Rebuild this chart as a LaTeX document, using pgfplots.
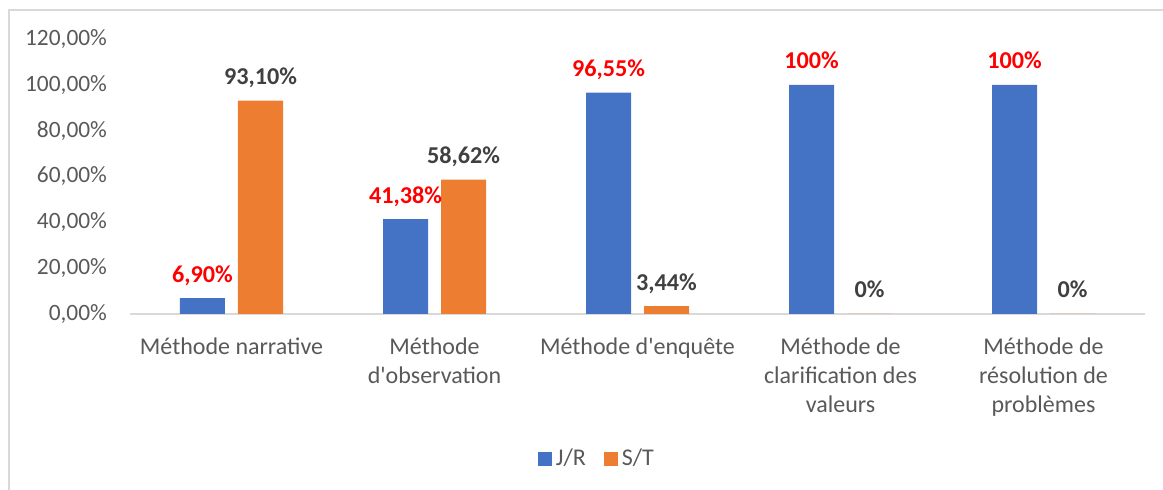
\documentclass[border=0pt]{standalone}
\usepackage{pgfplots}
\pgfplotsset{compat=1.18}
\usepackage{pgfplotstable}
\usepackage{fontspec}
\setmainfont{Carlito}[Ligatures=TeXOff]
\definecolor{cblue}{HTML}{4472C4}
\definecolor{corange}{HTML}{ED7D31}
\definecolor{ctick}{HTML}{595959}
\definecolor{clab}{HTML}{404040}
\definecolor{cred}{HTML}{FF0000}
\definecolor{cgrid}{HTML}{D9D9D9}

\pgfplotsset{/pgfplots/ybar legend/.style={/pgfplots/legend image code/.code={%
  \fill[##1,/tikz/.cd,draw=none] (0pt,-3.4pt) rectangle (7pt,3.4pt);}}}

\pgfplotstableread{
x y lab
0 6.90 {6,90\%}
1 41.38 {41,38\%}
2 96.55 {96,55\%}
3 100 {100\%}
4 100 {100\%}
}\jr
\pgfplotstableread{
x y lab
0 93.10 {93,10\%}
1 58.62 {58,62\%}
2 3.44 {3,44\%}
3 0 {0\%}
4 0 {0\%}
}\st

\begin{document}
\begin{tikzpicture}
\useasboundingbox (0,0) rectangle (581.5pt,245pt);
\draw[cgrid, line width=1pt] (4.3pt,0) -- (4.3pt,240pt) -- (581.5pt,240pt);
\begin{axis}[
  at={(65pt,88pt)}, anchor=south west,
  scale only axis,
  width=507.5pt, height=137.5pt,
  font=\fontsize{11.7}{14.5}\selectfont,
  ymin=0, ymax=120,
  xmin=-0.5, xmax=4.5,
  ybar=6.5pt, bar width=22.5pt,
  axis x line*=bottom, axis y line*=left,
  x axis line style={cgrid, line width=1pt},
  y axis line style={draw=none},
  major tick length=0pt,
  ytick={0,20,40,60,80,100,120},
  yticklabels={{0,00\%},{20,00\%},{40,00\%},{60,00\%},{80,00\%},{100,00\%},{120,00\%}},
  yticklabel style={text=ctick, anchor=east, xshift=-8pt},
  xtick={0,1,2,3,4},
  xticklabels={{Méthode narrative},{Méthode\\d'observation},{Méthode d'enquête},{Méthode de\\clarification des\\valeurs},{Méthode de\\résolution de\\problèmes}},
  xticklabel style={text=ctick, align=center, anchor=north, yshift=-8.5pt,
    font=\fontsize{12}{14.5}\selectfont},
  nodes near coords,
  point meta=explicit symbolic,
  every node near coord/.append style={anchor=base, yshift=8pt, font=\fontsize{12.1}{14.5}\selectfont\bfseries},
  legend style={at={(0.461,-0.527)}, anchor=center, draw=none, legend columns=2,
    font=\fontsize{12}{14.5}\selectfont, text=ctick,
    /tikz/every even column/.append style={column sep=7pt}},
]
\addplot[fill=cblue, draw=none, every node near coord/.append style={text=cred}]
  table[x=x, y=y, meta=lab] {\jr};
\addplot[fill=corange, draw=none, every node near coord/.append style={text=clab}]
  table[x=x, y=y, meta=lab] {\st};
\legend{J/R, S/T}
\end{axis}
\end{tikzpicture}
\end{document}
